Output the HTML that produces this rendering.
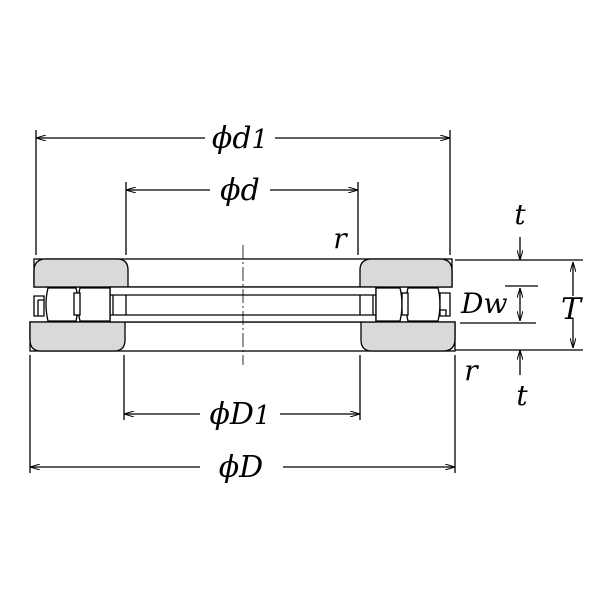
<!DOCTYPE html>
<html><head><style>body{margin:0;background:#fff}svg{display:block}text{font-family:"DejaVu Serif","Liberation Serif",serif;font-style:italic;fill:#000}</style></head><body>
<svg width="600" height="600" viewBox="0 0 600 600" xmlns="http://www.w3.org/2000/svg">
<defs><marker id="a" viewBox="0 0 10 6" refX="10" refY="3" markerWidth="10" markerHeight="6" orient="auto-start-reverse" markerUnits="userSpaceOnUse"><path d="M0,0 L10,3 L0,6" fill="none" stroke="#000" stroke-width="1"/></marker></defs>
<g stroke="#000" stroke-width="1.3" fill="none">
<line x1="36" y1="130" x2="36" y2="255"/><line x1="450" y1="130" x2="450" y2="255"/>
<line x1="126" y1="182" x2="126" y2="255"/><line x1="358" y1="182" x2="358" y2="255"/>
<line x1="30" y1="355" x2="30" y2="473"/><line x1="455" y1="355" x2="455" y2="473"/>
<line x1="124" y1="355" x2="124" y2="420"/><line x1="360" y1="355" x2="360" y2="420"/>
<line x1="36" y1="138" x2="205" y2="138" marker-start="url(#a)"/><line x1="275" y1="138" x2="450" y2="138" marker-end="url(#a)"/>
<line x1="126" y1="190" x2="210" y2="190" marker-start="url(#a)"/><line x1="270" y1="190" x2="358" y2="190" marker-end="url(#a)"/>
<line x1="124" y1="414" x2="200" y2="414" marker-start="url(#a)"/><line x1="280" y1="414" x2="360" y2="414" marker-end="url(#a)"/>
<line x1="30" y1="467" x2="200" y2="467" marker-start="url(#a)"/><line x1="283" y1="467" x2="455" y2="467" marker-end="url(#a)"/>
<line x1="455" y1="260" x2="583" y2="260"/><line x1="455" y1="350" x2="583" y2="350"/>
<line x1="505" y1="286" x2="538" y2="286"/><line x1="460" y1="323" x2="536" y2="323"/>
<line x1="520" y1="237" x2="520" y2="260" marker-end="url(#a)"/>
<line x1="520" y1="375" x2="520" y2="350" marker-end="url(#a)"/>
<line x1="520" y1="288" x2="520" y2="321" marker-start="url(#a)" marker-end="url(#a)"/>
<line x1="573" y1="262" x2="573" y2="296" marker-start="url(#a)"/><line x1="573" y1="318" x2="573" y2="348" marker-end="url(#a)"/>
<rect x="34" y="259" width="418" height="28" fill="#fff"/>
<path d="M46,259 H117 Q128,259 128,270 V287 H34 V271 Q34,259 46,259Z" fill="#d9d9d9"/>
<path d="M372,259 H440 Q452,259 452,271 V287 H360 V270 Q360,259 372,259Z" fill="#d9d9d9"/>
<rect x="30" y="322" width="425" height="29" fill="#fff"/>
<path d="M30,322 H125 V340 Q125,351 114,351 H41 Q30,351 30,340Z" fill="#d9d9d9"/>
<path d="M361,322 H455 V339 Q455,351 443,351 H372 Q361,351 361,340Z" fill="#d9d9d9"/>
<rect x="110" y="287" width="266" height="35" fill="#fff"/>
<line x1="110" y1="295" x2="376" y2="295"/><line x1="110" y1="315" x2="376" y2="315"/>
<line x1="113" y1="295" x2="113" y2="315"/><line x1="126" y1="295" x2="126" y2="315"/>
<line x1="360" y1="295" x2="360" y2="315"/><line x1="373" y1="295" x2="373" y2="315"/>
<path d="M48,288 Q44,304 48,321 H76 Q80,304 76,288Z" fill="#fff"/>
<path d="M80,288 Q76,304 80,321 H110 V288Z" fill="#fff"/>
<rect x="74" y="293" width="6" height="22" fill="#fff"/>
<path d="M34,296 H44 V316 H34Z M38,300 H44 M38,300 V316" fill="#fff"/>
<path d="M376,288 V321 H400 Q404,304 400,288Z" fill="#fff"/>
<path d="M408,288 Q404,304 408,321 H438 Q442,304 438,288Z" fill="#fff"/>
<rect x="402" y="293" width="6" height="22" fill="#fff"/>
<path d="M440,293 H450 V316 H440Z M440,310 H446 V316" fill="#fff"/>
<line x1="243" y1="245" x2="243" y2="365" stroke-width="0.8" stroke-dasharray="14,3,2,3"/>
</g>
<text x="240" y="148" font-size="30" text-anchor="middle">ϕd<tspan font-size="26">1</tspan></text>
<text x="240" y="200" font-size="30" text-anchor="middle">ϕd</text>
<text x="240" y="424" font-size="30" text-anchor="middle">ϕD<tspan font-size="26">1</tspan></text>
<text x="241" y="477" font-size="30" text-anchor="middle">ϕD</text>
<text x="340" y="248" font-size="28" text-anchor="middle">r</text>
<text x="471" y="380" font-size="28" text-anchor="middle">r</text>
<text x="520" y="224" font-size="28" text-anchor="middle">t</text>
<text x="522" y="405" font-size="28" text-anchor="middle">t</text>
<text x="571" y="319" font-size="30" text-anchor="middle">T</text>
<text x="461" y="313" font-size="28">Dw</text>
</svg>
</body></html>
